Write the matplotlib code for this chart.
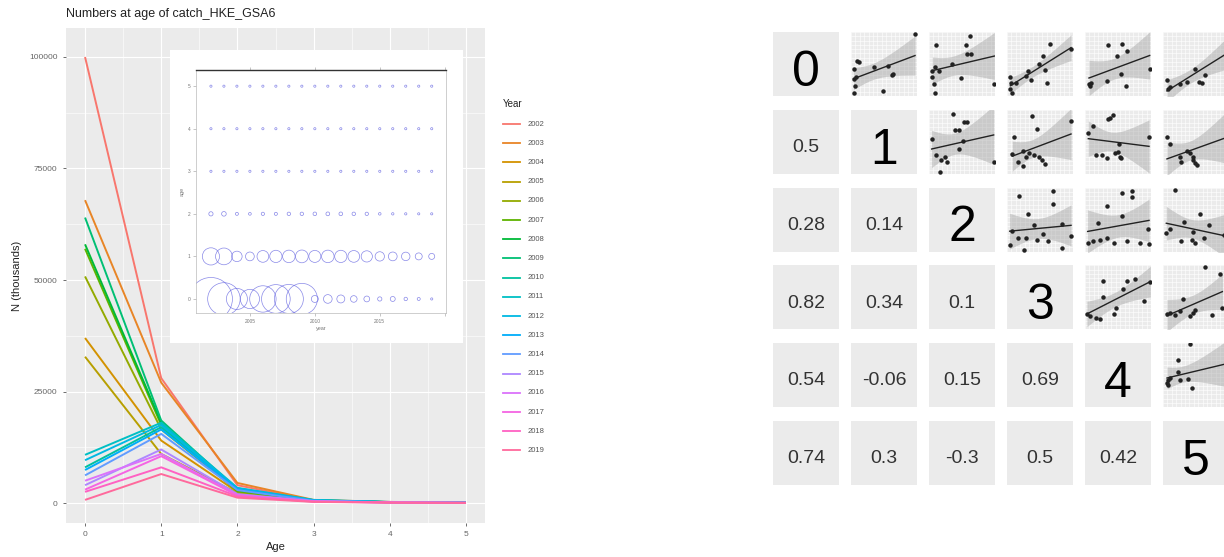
import numpy as np
import matplotlib
matplotlib.use("Agg")
import matplotlib.pyplot as plt
from matplotlib.lines import Line2D

plt.rcParams['font.family'] = ['Liberation Sans', 'DejaVu Sans']

W, H = 1224, 557

##### data: numbers at age (thousands) #####
years = list(range(2002, 2020))
ages = [0, 1, 2, 3, 4, 5]
n_age0 = [100000, 67900, 37000, 32800, 50800, 57000, 58000, 64000, 8000,
          10800, 9600, 7400, 6200, 4000, 5000, 3000, 2500, 700]
n_age1 = [28000, 27000, 14000, 11000, 16500, 17500, 18000, 18500, 17000,
          18000, 17500, 16500, 15500, 12000, 11000, 10500, 8000, 6500]
n_age2 = [4000, 4500, 2500, 2200, 2800, 2600, 3000, 3000, 3200,
          3400, 3300, 3100, 2900, 2000, 1800, 1700, 1500, 1200]
n_age3 = [600, 700, 500, 450, 500, 550, 600, 550, 650,
          700, 600, 550, 500, 400, 380, 350, 300, 250]
n_age4 = [200, 250, 180, 150, 170, 190, 200, 180, 220,
          240, 210, 190, 170, 140, 130, 120, 110, 90]
n_age5 = [80, 90, 70, 60, 65, 70, 75, 70, 80,
          90, 80, 70, 65, 55, 50, 45, 40, 35]
n_at_age = [n_age0, n_age1, n_age2, n_age3, n_age4, n_age5]

##### correlation matrix (lower triangle) #####
corr_lower = [[0.5],
              [0.28, 0.14],
              [0.82, 0.34, 0.1],
              [0.54, -0.06, 0.15, 0.69],
              [0.74, 0.3, -0.3, 0.5, 0.42]]

##### scatter points of upper triangle (scaled to each small panel) #####
pts_01 = [(0.04, 0.42), (0.09, 0.55), (0.12, 0.53), (0.05, 0.26), (0.07, 0.30), (0.06, 0.16), (0.05, 0.05),
          (0.35, 0.45), (0.56, 0.47), (0.64, 0.34), (0.62, 0.33), (0.49, 0.08), (0.97, 0.97)]
pts_02 = [(0.10, 0.79), (0.05, 0.39), (0.09, 0.45), (0.15, 0.39), (0.05, 0.29), (0.07, 0.18), (0.09, 0.05),
          (0.35, 0.50), (0.49, 0.28), (0.56, 0.79), (0.62, 0.93), (0.57, 0.66), (0.64, 0.66), (0.99, 0.18)]
pts_03 = [(0.05, 0.29), (0.06, 0.21), (0.05, 0.11), (0.07, 0.05), (0.13, 0.21), (0.29, 0.32), (0.37, 0.25),
          (0.32, 0.39), (0.49, 0.50), (0.55, 0.63), (0.58, 0.41), (0.61, 0.21), (0.65, 0.82), (0.97, 0.74)]
pts_04 = [(0.06, 0.18), (0.08, 0.16), (0.09, 0.20), (0.35, 0.79), (0.56, 0.82), (0.48, 0.63), (0.64, 0.71),
          (0.33, 0.24), (0.62, 0.16), (0.54, 0.34), (0.98, 0.42)]
pts_05 = [(0.06, 0.25), (0.08, 0.11), (0.10, 0.14), (0.26, 0.19), (0.36, 0.22), (0.49, 0.42), (0.54, 0.22),
          (0.59, 0.21), (0.64, 0.33), (0.95, 0.94)]
pts_12 = [(0.36, 0.94), (0.04, 0.55), (0.11, 0.29), (0.18, 0.21), (0.24, 0.26), (0.28, 0.18), (0.17, 0.03),
          (0.39, 0.68), (0.46, 0.68), (0.53, 0.81), (0.57, 0.81), (0.52, 0.52), (0.46, 0.39), (0.98, 0.18)]
pts_13 = [(0.38, 0.91), (0.46, 0.70), (0.11, 0.57), (0.08, 0.31), (0.16, 0.18), (0.24, 0.12), (0.29, 0.26),
          (0.33, 0.32), (0.41, 0.29), (0.49, 0.27), (0.53, 0.22), (0.58, 0.15), (0.97, 0.82), (0.24, 0.35)]
pts_14 = [(0.38, 0.87), (0.42, 0.92), (0.35, 0.85), (0.05, 0.63), (0.12, 0.74), (0.16, 0.29), (0.25, 0.29),
          (0.33, 0.25), (0.46, 0.32), (0.50, 0.34), (0.53, 0.27), (0.55, 0.25), (0.51, 0.46), (0.97, 0.57)]
pts_15 = [(0.06, 0.57), (0.11, 0.46), (0.26, 0.27), (0.36, 0.35), (0.41, 0.32), (0.45, 0.27), (0.46, 0.22),
          (0.49, 0.17), (0.51, 0.14), (0.27, 0.19), (0.95, 0.96)]
pts_23 = [(0.18, 0.87), (0.70, 0.95), (0.70, 0.74), (0.32, 0.58), (0.41, 0.42), (0.08, 0.32), (0.16, 0.22),
          (0.29, 0.21), (0.45, 0.18), (0.55, 0.27), (0.62, 0.16), (0.84, 0.43), (0.83, 0.05), (0.26, 0.02),
          (0.04, 0.11), (0.97, 0.24)]
pts_24 = [(0.56, 0.92), (0.71, 0.95), (0.71, 0.86), (0.33, 0.71), (0.56, 0.55), (0.19, 0.45), (0.04, 0.13),
          (0.12, 0.16), (0.22, 0.18), (0.33, 0.22), (0.44, 0.13), (0.64, 0.16), (0.84, 0.13), (0.97, 0.12),
          (0.96, 0.36)]
pts_25 = [(0.18, 0.96), (0.05, 0.29), (0.10, 0.36), (0.32, 0.47), (0.28, 0.16), (0.44, 0.18), (0.49, 0.13),
          (0.56, 0.58), (0.62, 0.21), (0.69, 0.41), (0.46, 0.31), (0.92, 0.26)]
pts_34 = [(0.03, 0.24), (0.08, 0.21), (0.17, 0.18), (0.22, 0.17), (0.28, 0.50), (0.28, 0.76), (0.44, 0.24),
          (0.47, 0.34), (0.58, 0.63), (0.64, 0.75), (0.75, 0.79), (0.89, 0.45), (0.99, 0.74)]
pts_35 = [(0.06, 0.24), (0.11, 0.25), (0.18, 0.23), (0.26, 0.29), (0.31, 0.47), (0.41, 0.21), (0.45, 0.26),
          (0.49, 0.31), (0.64, 0.97), (0.74, 0.23), (0.86, 0.87), (0.90, 0.34)]
pts_45 = [(0.06, 0.38), (0.08, 0.42), (0.10, 0.46), (0.08, 0.34), (0.22, 0.55), (0.22, 0.73), (0.41, 0.98),
          (0.26, 0.43), (0.38, 0.44), (0.44, 0.30), (0.97, 0.62)]

upper_pts = {(0, 1): pts_01, (0, 2): pts_02, (0, 3): pts_03, (0, 4): pts_04, (0, 5): pts_05,
             (1, 2): pts_12, (1, 3): pts_13, (1, 4): pts_14, (1, 5): pts_15,
             (2, 3): pts_23, (2, 4): pts_24, (2, 5): pts_25,
             (3, 4): pts_34, (3, 5): pts_35, (4, 5): pts_45}


def px_rect(x0, y0, x1, y1):
    return [x0 / W, 1 - y1 / H, (x1 - x0) / W, (y1 - y0) / H]


def hue_pal(n, h0=15, h1=375, c=100, l=65):
    # ggplot2 default discrete colours (hcl -> sRGB)
    if (h1 - h0) % 360 < 1:
        h1 = h1 - 360 / n
    cols = []
    for h in np.linspace(h0, h1, n):
        u = c * np.cos(np.radians(h))
        v = c * np.sin(np.radians(h))
        Y = ((l + 16) / 116) ** 3
        un, vn = 0.19784, 0.46834
        up = u / (13 * l) + un
        vp = v / (13 * l) + vn
        X = Y * 9 * up / (4 * vp)
        Z = Y * (12 - 3 * up - 20 * vp) / (4 * vp)
        rgb = np.array([3.240479 * X - 1.537150 * Y - 0.498535 * Z,
                        -0.969256 * X + 1.875992 * Y + 0.041556 * Z,
                        0.055648 * X - 0.204043 * Y + 1.057311 * Z])
        rgb = np.where(rgb <= 0.0031308, 12.92 * rgb, 1.055 * np.abs(rgb) ** (1 / 2.4) - 0.055)
        cols.append(tuple(np.clip(rgb, 0, 1)))
    return cols


colors = hue_pal(len(years))

fig = plt.figure(figsize=(W / 100, H / 100), dpi=100)

##### left: numbers at age lines #####
ax = fig.add_axes(px_rect(66, 28, 485, 523))
ax.set_facecolor('#EBEBEB')
for k, yr in enumerate(years):
    vals = [n_at_age[a][k] for a in ages]
    ax.plot(ages, vals, color=colors[k], lw=1.4, solid_capstyle='butt', zorder=3)
ax.set_xlim(-0.25, 5.25)
ax.set_ylim(-4480, 106500)
ax.set_xticks(ages)
ax.set_yticks([0, 25000, 50000, 75000, 100000])
ax.set_xticks([0.5, 1.5, 2.5, 3.5, 4.5], minor=True)
ax.set_yticks([12500, 37500, 62500, 87500], minor=True)
ax.grid(which='major', color='white', lw=0.8)
ax.grid(which='minor', color='white', lw=0.4)
ax.set_axisbelow(True)
for s in ax.spines.values():
    s.set_visible(False)
ax.tick_params(which='major', length=2.5, width=0.5, color='#333333', labelsize=6, labelcolor='#666666')
ax.tick_params(which='minor', length=0)
ax.set_xlabel('Age', fontsize=8, color='#222222', labelpad=3)
ax.set_ylabel('N (thousands)', fontsize=8, color='#222222', labelpad=5)
fig.text(66 / W, 1 - 14 / H, 'Numbers at age of catch_HKE_GSA6', fontsize=9, color='#222222', va='center')

# legend
fig.text(503 / W, 1 - 104 / H, 'Year', fontsize=7, color='#222222', va='center')
for k, yr in enumerate(years):
    yy = 1 - (124 + k * 19.2) / H
    fig.add_artist(Line2D([503 / W, 520 / W], [yy, yy], color=colors[k], lw=1.3))
    fig.text(528 / W, yy, str(yr), fontsize=5.5, color='#555555', va='center')

##### inset bubble plot #####
ax_bg = fig.add_axes(px_rect(170, 50, 463, 343))
ax_bg.set_facecolor('white')
ax_bg.set_xticks([])
ax_bg.set_yticks([])
for s in ax_bg.spines.values():
    s.set_visible(False)

ax_in = fig.add_axes(px_rect(196, 70, 446, 313))
ax_in.set_facecolor('white')
for a in ages:
    vals = np.array(n_at_age[a], dtype=float)
    d_px = np.maximum(12 * (vals / 17000) ** 0.72, 2.2)
    ax_in.scatter(years, [a] * len(years), s=(d_px * 0.72) ** 2, facecolors='none',
                  edgecolors='#6060E0', linewidths=0.5, alpha=0.75)
ax_in.set_xlim(2000.85, 2020.1)
ax_in.set_ylim(-0.33, 5.38)
ax_in.set_xticks([2005, 2010, 2015, 2020])
ax_in.set_xticklabels(['2005', '2010', '2015', ''])
ax_in.set_yticks(ages)
ax_in.tick_params(labelsize=3.5, labelcolor='#777777', length=2, width=0.4, color='#999999',
                  top=True, pad=2)
for side, s in ax_in.spines.items():
    s.set_color('#BBBBBB')
    s.set_linewidth(0.5)
ax_in.spines['top'].set_color('#333333')
ax_in.spines['top'].set_linewidth(1.0)
ax_in.set_xlabel('year', fontsize=4, color='#777777', labelpad=2)
ax_in.set_ylabel('age', fontsize=4, color='#777777', labelpad=2)

##### right: correlation matrix of ages #####
grid_lines = np.linspace(0, 1, 16)
for i in range(6):
    for j in range(6):
        x0 = 773 + 78 * j
        y0 = 32 + 77.8 * i
        t = fig.add_axes(px_rect(x0, y0, x0 + 66, y0 + 64))
        t.set_facecolor('#EBEBEB')
        t.set_xticks([])
        t.set_yticks([])
        for s in t.spines.values():
            s.set_visible(False)
        t.set_xlim(0, 1)
        t.set_ylim(0, 1)
        if i == j:
            t.text(0.5, 0.16, str(i), fontsize=36, ha='center', va='baseline', color='black')
        elif i > j:
            t.text(0.5, 0.34, f'{corr_lower[i - 1][j]:g}', fontsize=14, ha='center', va='baseline',
                   color='#333333')
        else:
            for g in grid_lines:
                t.axvline(g, color='white', lw=0.4, zorder=0)
                t.axhline(g, color='white', lw=0.4, zorder=0)
            px = np.array([p[0] for p in upper_pts[(i, j)]])
            py = np.array([p[1] for p in upper_pts[(i, j)]])
            n = len(px)
            b, a0 = np.polyfit(px, py, 1)
            xs = np.linspace(px.min(), px.max(), 60)
            fit = a0 + b * xs
            resid = py - (a0 + b * px)
            sd = np.sqrt(np.sum(resid ** 2) / (n - 2))
            se = sd * np.sqrt(1 / n + (xs - px.mean()) ** 2 / np.sum((px - px.mean()) ** 2))
            t.fill_between(xs, fit - 2.12 * se, fit + 2.12 * se, color='#999999', alpha=0.4, lw=0, zorder=1)
            t.plot(xs, fit, color='#222222', lw=1.0, zorder=2)
            t.plot(px, py, 'o', color='#222222', ms=2.2, zorder=3)

fig.savefig('out.png', dpi=100)
